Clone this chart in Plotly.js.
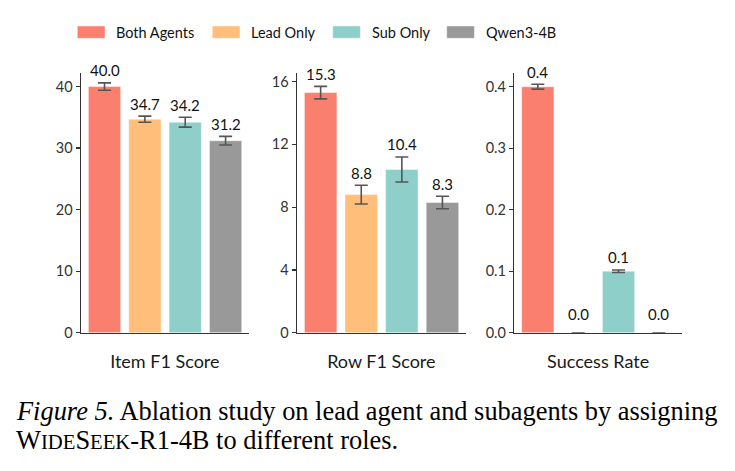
<!DOCTYPE html>
<html>
<head>
<meta charset="utf-8">
<script src="https://cdn.plot.ly/plotly-3.0.1.min.js"></script>
<style>html,body{margin:0;padding:0;background:#fff;}#chart{width:735px;height:471px;}</style>
</head>
<body>
<div id="chart"></div>
<script>
// ---- data ----
const categories = ['Both Agents', 'Lead Only', 'Sub Only', 'Qwen3-4B'];
const colors = ['#FA7F6F', '#FFBE7A', '#8ECFC9', '#999999'];
const metricNames = ['Item F1 Score', 'Row F1 Score', 'Success Rate'];
const itemF1 = [40.0, 34.7, 34.2, 31.2];
const itemF1Err = [0.6, 0.5, 0.8, 0.7];
const rowF1 = [15.3, 8.8, 10.4, 8.3];
const rowF1Err = [0.4, 0.6, 0.8, 0.4];
const successRate = [0.4, 0.0, 0.1, 0.0];
const successRateErr = [0.004, 0.0, 0.002, 0.0];
const yTicks1 = [0, 10, 20, 30, 40];
const yTicks2 = [0, 4, 8, 12, 16];
const yTicks3 = [0, 0.1, 0.2, 0.3, 0.4];
const captionLine1 = '<i>Figure 5.</i> Ablation study on lead agent and subagents by assigning';
const captionLine2 = 'W<span style="font-size:20.7px">IDE</span>S<span style="font-size:20.7px">EEK</span>-R1-4B to different roles.';

// ---- layout helpers ----
const W = 735, H = 471;
const FONT = 'Lato, Noto Sans, sans-serif';
const SERIF = 'Liberation Serif, Times New Roman, serif';
const axisColor = '#333333';
const xDomains = [[80.7/W, 249/W], [296.7/W, 466/W], [514/W, 682.3/W]];
const yDomain = [1 - 332.7/H, 1 - 73/H];
const yRanges = [[0, 42.2], [0, 16.55], [0, 0.4223]];
const values = [itemF1, rowF1, successRate];
const errs = [itemF1Err, rowF1Err, successRateErr];
const yTicks = [yTicks1, yTicks2, yTicks3];
const tickFmt = [v => String(v), v => String(v), v => v.toFixed(1)];

const traces = [];
const annotations = [];
const shapes = [];
const layout = {
  width: W, height: H,
  margin: {l: 0, r: 0, t: 0, b: 0},
  paper_bgcolor: '#fff', plot_bgcolor: '#fff',
  showlegend: false,
  font: {family: FONT, color: '#222', size: 13},
};

for (let i = 0; i < 3; i++) {
  const sfx = i === 0 ? '' : String(i + 1);
  traces.push({
    type: 'bar',
    x: categories,
    y: values[i],
    xaxis: 'x' + sfx, yaxis: 'y' + sfx,
    width: 0.8,
    marker: {color: colors, line: {color: 'rgba(255,255,255,0.45)', width: 1}},
    error_y: {type: 'data', array: errs[i], visible: true, color: '#555555', thickness: 1.6, width: 6.5},
    hoverinfo: 'skip'
  });
  layout['xaxis' + sfx] = {
    domain: xDomains[i], anchor: 'y' + sfx,
    type: 'category', range: [-0.59, 3.58],
    showticklabels: false, ticks: '', showgrid: false, zeroline: false,
    showline: true, linecolor: axisColor, linewidth: 1.2,
    title: {text: metricNames[i], font: {family: FONT, size: 18, color: '#1a1a1a'}, standoff: 22},
    fixedrange: true
  };
  layout['yaxis' + sfx] = {
    domain: yDomain, anchor: 'x' + sfx,
    range: yRanges[i],
    tickvals: yTicks[i], ticktext: yTicks[i].map(tickFmt[i]),
    ticks: 'outside', ticklen: 4, tickwidth: 1.2, tickcolor: axisColor,
    tickfont: {family: FONT, size: 14.5, color: '#333'},
    showgrid: false, zeroline: false,
    showline: true, linecolor: axisColor, linewidth: 1.2,
    fixedrange: true
  };
  for (let j = 0; j < categories.length; j++) {
    annotations.push({
      xref: 'x' + sfx, yref: 'y' + sfx,
      x: categories[j], y: values[i][j] + errs[i][j],
      text: values[i][j].toFixed(1),
      showarrow: false, yanchor: 'middle', yshift: values[i][j] === 0 ? 19 : 12.5,
      font: {family: FONT, size: 15, color: '#111'}
    });
  }
}

// legend (manual, wide swatches)
const legendX = [77.3, 212.3, 332.7, 446.7];
for (let j = 0; j < categories.length; j++) {
  shapes.push({
    type: 'rect', xref: 'paper', yref: 'paper',
    x0: legendX[j]/W, x1: (legendX[j] + 27.7)/W,
    y0: 1 - 38.3/H, y1: 1 - 26/H,
    fillcolor: colors[j], line: {color: 'rgba(255,255,255,0.45)', width: 1}
  });
  annotations.push({
    xref: 'paper', yref: 'paper',
    x: (legendX[j] + 37)/W, y: 1 - 32.5/H,
    xanchor: 'left', yanchor: 'middle',
    text: categories[j], showarrow: false,
    font: {family: FONT, size: 14.5, color: '#111'}
  });
}

// caption
annotations.push({
  xref: 'paper', yref: 'paper', x: 14/W, y: 1 - 411/H,
  xanchor: 'left', yanchor: 'middle', showarrow: false,
  text: captionLine1,
  font: {family: SERIF, size: 26.4, color: '#000'}
});
annotations.push({
  xref: 'paper', yref: 'paper', x: 14/W, y: 1 - 440/H,
  xanchor: 'left', yanchor: 'middle', showarrow: false,
  text: captionLine2,
  font: {family: SERIF, size: 26.4, color: '#000'}
});

layout.annotations = annotations;
layout.shapes = shapes;

Plotly.newPlot('chart', traces, layout, {displayModeBar: false, staticPlot: true});
</script>
</body>
</html>
